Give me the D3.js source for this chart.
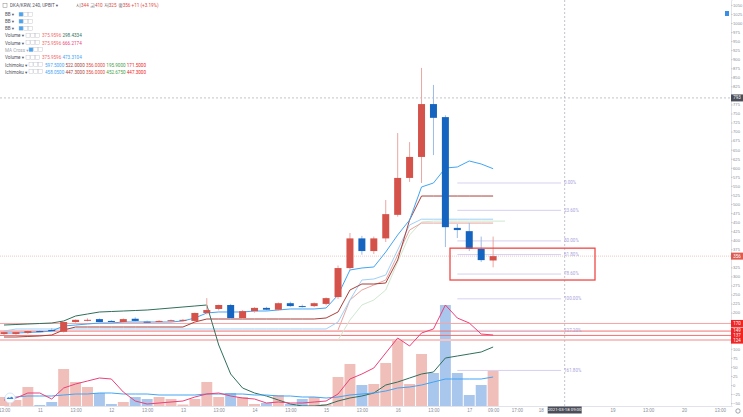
<!DOCTYPE html>
<html>
<head>
<meta charset="utf-8">
<script src="https://cdn.jsdelivr.net/npm/d3@7"></script>
<style>
body { margin: 0; background: #fff; }
svg { display: block; font-family: Roboto, "DejaVu Sans", sans-serif; }
</style>
</head>
<body>
<div id="chart"></div>
<script>
// Data (DKA/KRW 240, UPBIT)
//---------
var opens  = [141,141,144,149,152,147,174,179,182,177,174,183,175,176,178,177,177,199,210,221,185,204,213,208,226,218,218,224,243,323,405,370,405,470,572,630,776,740,434,425,376,344];
var highs  = [147,147,150,151,157,176,181,184,184,179,184,187,178,179,181,182,200,240,222,224,207,215,216,228,230,222,228,242,330,420,412,410,511,696,671,876,829,745,445,448,410,410];
var lows   = [138,139,141,146,146,145,172,176,173,173,172,174,172,173,175,175,175,195,206,180,182,200,205,205,216,214,215,220,238,318,360,362,395,465,561,558,635,381,406,370,340,325];
var closes = [146,146,149,148,149,174,180,180,174,174,182,177,174,177,179,180,199,207,221,185,204,213,208,226,218,217,226,240,323,405,370,405,472,572,630,776,738,436,428,376,345,356];
var volumes = [9,6,19,1,4,37,24,19,13,2,4,9,7,9,7,1.5,7,24,9,13,9,2,3,11,2,7,9,2,29,42,21,22,43,67,22,52,33,101,33,11,21,35];

// indicator lines
var tenkan1 = [143.6,143.6,145,146.4,149.2,163,165.7,168.5,171.3,171.3,174,174,174,174,174,176.8,185.1,198.9,201.7,201.7,201.7,204.4,204.4,207.2,210,210,210,212.7,248.6,317.7,323.2,326,367.4,414.4,455.8,547,558,599.4,602.2,618.8,610.5,597.5];
var kijun1  = [132.6,132.6,134,135.4,138.1,151.9,160.2,160.2,160.2,160.2,160.2,160.2,160.2,160.2,160.2,160.2,174,182.3,182.3,182.3,182.3,182.3,182.3,182.3,182.3,182.3,182.3,185.1,201.7,262.4,279,279,281.8,345.3,455.8,522,522,522,522,522,522,522];
var tenkan2 = [149,154.7,154.7,154.7,154.7,154.7,154.7,154.7,154.7,154.7,154.7,154.7,154.7,154.7,154.7,154.7,154.7,154.7,154.7,154.7,154.7,154.7,154.7,154.7,154.7,154.7,154.7,154.7,174,234.8,290,292.8,303.9,372.9,442,458,458,458,458,458,458,458];
var kijun2  = [null,null,null,null,null,null,null,null,null,null,null,null,null,null,null,null,null,null,null,null,null,null,null,null,null,null,null,null,151.9,234.8,262.4,276.2,290,359.1,428.2,447.3,447.3,447.3,447.3,447.3,447.3,447.3];
var spanA2  = [null,null,null,null,null,null,null,null,null,null,null,null,null,null,null,null,null,null,null,null,null,null,null,null,null,null,null,null,124,179.6,221,234.8,262.4,339.8,414.4,450.3,452.7,452.7,452.7,452.7,452.7,452.7,452.7];
var volMaFast = [6,8,13,13,7,18,22,25,28,27,14,5,2,3,4,5,9,12,13,10,8,7,3,4,3,3,4,5,12,27,32,38,53,68,60,73,77,101,88,83,72,71];
var volMaSlow = [8,9,10,10,10,11,12,12,13,13,12,12,12,11,11,11,11,12,12,12,12,11,11,10,10,9,9,8,9,11,12,13,15,18,19,21,24,27,27,27,27,29];
var maCross = [81,81.5,82,82.5,83,85,90,92,94,94.5,95,95.5,96,97,98,99,100,101,61,32,18,13,10,6,2,0,0,1,5,8,10,13,21,24,28,32,34,48,50,52,54,59];

// horizontal levels, fib, axis
var hLevels = [170, 149, 137, 124];
var hLabels = ["170", "149", "137", "124"];
var fibLevels = [0, 0.236, 0.5, 0.618, 0.786, 1, 1.272, 1.618];
var fibLabels = ["0.00%", "23.60%", "50.00%", "61.80%", "78.60%", "100.00%", "127.20%", "161.80%"];
var fibHigh = 558, fibLow = 238;
var lastPrice = 356, crossPrice = 793;
var tickIdx = [0,3,6,9,12,15,18,21,24,27,30,33,36,39,41,43,45,51,54,57,60];
var tickLabels = ["13:00","11","13:00","12","13:00","13","13:00","14","13:00","15","13:00","16","13:00","17","09:00","17:00","18","19","13:00","20","13:00"];
var crossIdx = 47, crossLabel = "2021-03-18 09:00";

// Setup
//---------
var W = 743, H = 417, plotR = 731, plotB = 406;
var svg = d3.select("#chart").append("svg").attr("width", W).attr("height", H);

var x = d3.scaleLinear().domain([0, 61]).range([4, 731.7]);
var y = d3.scaleLinear().domain([-58, 1063.5]).range([plotB, 0]);
var yVol = d3.scaleLinear().domain([0, 101]).range([plotB, 305]);

var RED = "#d4524a", BLUE = "#1565c0";
var step = x(1) - x(0);
var plot = svg.append("g");
plot.append("clipPath").attr("id", "clip").append("rect").attr("width", plotR).attr("height", plotB);
plot.attr("clip-path", "url(#clip)");

// Volume bars
//---------
plot.selectAll(".vol").data(volumes).enter().append("rect")
	.attr("x", function(d, i) { return x(i) - step / 2 + 0.5; })
	.attr("width", step - 1)
	.attr("y", function(d) { return yVol(d); })
	.attr("height", function(d) { return plotB - yVol(d); })
	.attr("fill", function(d, i) { return closes[i] >= opens[i] ? "#f0bfba" : "#a9c6ec"; });

// Horizontal red levels
//---------
var hStyles = [["#f6a5a5", 1], ["#f07070", 1], ["#f07070", 1], ["#f8c4c4", 2]];
hLevels.forEach(function(v, i) {
	plot.append("line").attr("x1", 0).attr("x2", plotR)
		.attr("y1", y(v)).attr("y2", y(v))
		.attr("stroke", hStyles[i][0]).attr("stroke-width", hStyles[i][1]);
});

// last price + crosshair
plot.append("line").attr("x1", 0).attr("x2", plotR).attr("y1", y(lastPrice)).attr("y2", y(lastPrice))
	.attr("stroke", "#e8a29c").attr("stroke-width", 0.6).attr("stroke-dasharray", "1,1");
plot.append("line").attr("x1", 0).attr("x2", plotR).attr("y1", y(crossPrice)).attr("y2", y(crossPrice))
	.attr("stroke", "#b2b5be").attr("stroke-width", 0.8).attr("stroke-dasharray", "2,2");
plot.append("line").attr("x1", x(crossIdx)).attr("x2", x(crossIdx)).attr("y1", 0).attr("y2", plotB)
	.attr("stroke", "#b2b5be").attr("stroke-width", 0.8).attr("stroke-dasharray", "2,2");

// Fib retracement
//---------
var fibG = plot.append("g");
fibLevels.forEach(function(f, i) {
	var v = fibHigh - (fibHigh - fibLow) * f;
	fibG.append("line").attr("x1", x(38)).attr("x2", x(46.7))
		.attr("y1", y(v)).attr("y2", y(v))
		.attr("stroke", "#d6d0f0").attr("stroke-width", 1);
	fibG.append("text").attr("x", x(46.7) + 3).attr("y", y(v))
		.attr("dominant-baseline", "middle")
		.attr("font-size", 4.5).attr("fill", "#a9a3dc").text(fibLabels[i]);
});

// Lines
//---------
function drawLine(data, scale, color, width) {
	var line = d3.line()
		.defined(function(d) { return d != null; })
		.x(function(d, i) { return x(i); })
		.y(function(d) { return scale(d); });
	plot.append("path").datum(data).attr("d", line)
		.attr("fill", "none").attr("stroke", color).attr("stroke-width", width);
}
drawLine(spanA2, y, "#cfe8cf", 1);
drawLine(kijun2, y, "#e4a5a0", 1);
drawLine(tenkan2, y, "#9fd0f7", 1);
drawLine(kijun1, y, "#a8413b", 1);
drawLine(tenkan1, y, "#42a5f5", 1);
drawLine(maCross, yVol, "#2f6f5c", 1);
drawLine(volMaSlow, yVol, "#42a5f5", 1);
drawLine(volMaFast, yVol, "#ec407a", 1);

// Candles
//---------
var candles = plot.selectAll(".candle").data(opens).enter().append("g");
candles.append("line")
	.attr("x1", function(d, i) { return x(i); }).attr("x2", function(d, i) { return x(i); })
	.attr("y1", function(d, i) { return y(highs[i]); }).attr("y2", function(d, i) { return y(lows[i]); })
	.attr("stroke", function(d, i) { return closes[i] >= opens[i] ? "#eaa7a2" : "#9dbbe6"; })
	.attr("stroke-width", 1);
candles.append("rect")
	.attr("x", function(d, i) { return x(i) - 3.5; })
	.attr("width", 7)
	.attr("y", function(d, i) { return y(Math.max(opens[i], closes[i])); })
	.attr("height", function(d, i) { return Math.max(1, Math.abs(y(opens[i]) - y(closes[i]))); })
	.attr("fill", function(d, i) { return closes[i] >= opens[i] ? RED : BLUE; });

// Red box
plot.append("rect").attr("x", 450).attr("y", y(378)).attr("width", 145).attr("height", y(290) - y(378))
	.attr("fill", "none").attr("stroke", "#f04848").attr("stroke-width", 1.3);

// Right axis
//---------
var specials = [lastPrice, crossPrice].concat(hLevels);
var ticks = d3.range(-50, 1051, 25).filter(function(t) {
	return specials.every(function(s) { return Math.abs(y(s) - y(t)) > 5; });
});
var yAxis = svg.append("g").attr("transform", "translate(" + plotR + ",0)")
	.call(d3.axisRight(y).tickValues(ticks).tickFormat(d3.format("d")).tickSize(1.5).tickPadding(0.6));
yAxis.select(".domain").attr("stroke", "#e0e3eb");
yAxis.selectAll(".tick line").attr("stroke", "#c4c6cc");
yAxis.selectAll("text").attr("font-size", 4.1).attr("fill", "#8a8d96");

function axisTag(v, label, color) {
	var g = svg.append("g").attr("transform", "translate(" + plotR + "," + y(v) + ")");
	g.append("rect").attr("x", 0).attr("y", -3.5).attr("width", 12).attr("height", 7).attr("fill", color);
	g.append("text").attr("x", 6).attr("y", 0.2).attr("text-anchor", "middle").attr("dominant-baseline", "middle")
		.attr("font-size", 4.5).attr("fill", "#fff").text(label);
}
hLevels.forEach(function(v, i) { axisTag(v, hLabels[i], "#f02424"); });
axisTag(lastPrice, String(lastPrice), "#e05a50");
axisTag(crossPrice, String(crossPrice), "#4a4d57");

// Bottom axis
//---------
var xAxis = svg.append("g").attr("transform", "translate(0," + plotB + ")")
	.call(d3.axisBottom(x).tickValues(tickIdx).tickFormat(function(d, i) { return tickLabels[i]; }).tickSize(0).tickPadding(3));
xAxis.select(".domain").attr("stroke", "#e0e3eb");
xAxis.selectAll("text").attr("font-size", 4.5).attr("fill", "#8a8d96");
var cg = svg.append("g").attr("transform", "translate(" + x(crossIdx) + "," + (plotB + 4) + ")");
cg.append("rect").attr("x", -17).attr("y", -3.5).attr("width", 34).attr("height", 7).attr("fill", "#4a4d57");
cg.append("text").attr("text-anchor", "middle").attr("dominant-baseline", "middle").attr("y", 0.2)
	.attr("font-size", 4.3).attr("fill", "#fff").text(crossLabel);
svg.append("circle").attr("cx", 738).attr("cy", 411).attr("r", 2.2).attr("fill", "none").attr("stroke", "#8a8d96").attr("stroke-width", 0.8);

// logo, top-right marker
svg.append("circle").attr("cx", 10).attr("cy", 398).attr("r", 5).attr("fill", "#fff").attr("stroke", "#d6e6f8");
svg.append("path").attr("d", "M6.5,399 q1.5,-3 3.5,-1 q2,-3 3.5,1 z").attr("fill", "#2f8ae5");
svg.append("rect").attr("x", 725).attr("y", 11).attr("width", 4).attr("height", 5).attr("fill", "#3a8ee6");

// Legend
//---------
var legend = svg.append("g").attr("font-size", 4.6);
function icons(g, x0, yy, firstBlue) {
	for (var k = 0; k < 3; k++) {
		g.append("rect").attr("x", x0 + k * 4.8).attr("y", yy - 2.3).attr("width", 4).attr("height", 4)
			.attr("fill", (firstBlue && k == 0) ? "#42a5f5" : "#fff").attr("stroke", "#b8bbc3").attr("stroke-width", 0.4);
	}
}
legend.append("rect").attr("x", 3).attr("y", 3.5).attr("width", 4).attr("height", 4).attr("fill", "none").attr("stroke", "#888").attr("stroke-width", 0.5);
legend.append("text").attr("x", 10).attr("y", 7.3).attr("fill", "#50535e").text("DKA/KRW, 240, UPBIT \u25BE");
var ohlc = legend.append("text").attr("x", 76).attr("y", 7.3);
[["시", "344"], ["고", "410"], ["저", "325"], ["종", "356"]].forEach(function(p) {
	ohlc.append("tspan").attr("fill", "#50535e").text(p[0]);
	ohlc.append("tspan").attr("fill", "#e0483c").text(p[1] + "  ");
});
ohlc.append("tspan").attr("fill", "#e0483c").text("+11 (+3.19%)");

var rows = [
	{ name: "BB \u25BE", blue: true, vals: [] },
	{ name: "BB \u25BE", blue: true, vals: [] },
	{ name: "BB \u25BE", blue: true, vals: [] },
	{ name: "Volume \u25BE", vals: [["375.9596", "#ef6a6a"], ["298.4334", "#2f6f5c"]] },
	{ name: "Volume \u25BE", vals: [["375.9596", "#ef6a6a"], ["666.2174", "#ec407a"]] },
	{ name: "MA Cross \u25BE", blue: true, grey: true, vals: [] },
	{ name: "Volume \u25BE", vals: [["375.9596", "#ef6a6a"], ["473.3104", "#42a5f5"]] },
	{ name: "Ichimoku \u25BE", vals: [["597.5000", "#42a5f5"], ["522.0000", "#a8413b"], ["356.0000", "#e0483c"], ["195.9000", "#43a047"], ["171.5000", "#f02424"]] },
	{ name: "Ichimoku \u25BE", vals: [["458.0500", "#42a5f5"], ["447.3000", "#a8413b"], ["356.0000", "#e0483c"], ["452.6750", "#43a047"], ["447.3000", "#f02424"]] }
];
var rowY = [14.5, 21.5, 28.5, 35.5, 43, 50, 57.5, 65, 72];
rows.forEach(function(r, i) {
	var yy = rowY[i];
	legend.append("text").attr("x", 5).attr("y", yy + 1.6).attr("fill", r.grey ? "#a3a6af" : "#50535e").text(r.name);
	var ix = r.name.indexOf("BB") == 0 ? 19 : (r.name.indexOf("Volume") == 0 ? 26 : 29);
	icons(legend, ix, yy, r.blue);
	var vt = legend.append("text").attr("x", ix + 16).attr("y", yy + 1.6);
	r.vals.forEach(function(v) { vt.append("tspan").attr("fill", v[1]).text(v[0] + "  "); });
});
</script>
</body>
</html>
